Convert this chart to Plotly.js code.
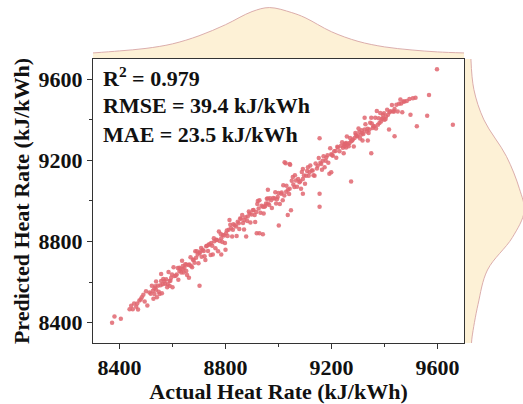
<!DOCTYPE html>
<html>
<head>
<meta charset="utf-8">
<script src="https://cdn.plot.ly/plotly-3.0.1.min.js"></script>
<style>html,body{margin:0;padding:0;background:#fff;}#chart{width:523px;height:404px;}</style>
</head>
<body>
<div id="chart"></div>
<script>
// Actual vs predicted heat rate (kJ/kWh)
var actual = [
8372,8381,8405,8438,8450,8444,8463,8467,8475,8484,8490,8513,8526,8532,8538,8545,8551,8541,8557,8538,
8563,8570,8576,8589,8589,8595,8604,8608,8616,8626,8633,8639,8645,8652,8662,8664,8670,8683,8689,8695,
8582,8557,8532,8626,8639,8652,8677,8686,8702,8708,8714,8721,8727,8737,8746,8752,8758,8765,8775,8784,
8784,8790,8800,8802,8812,8815,8821,8830,8840,8846,8855,8863,8871,8878,8884,8891,8903,8910,8918,8925,
8928,8922,8941,8953,8960,9155,9027,9044,9092,9111,9054,9066,9079,9092,9104,9117,9129,9136,9148,9161,
9167,9174,9180,9192,9199,9205,9215,9224,9236,9249,9255,9155,9155,9092,9085,9060,9042,9029,9010,8997,
8985,8972,8960,8947,8928,8991,9016,9047,9035,9598,9568,9561,9522,9517,9507,9494,9484,9472,9463,9498,
9467,9450,9438,9432,9419,9413,9406,9400,9394,9387,9381,9371,9394,9375,9362,9350,9325,9356,9343,9333,
9325,9317,9311,9305,9298,9292,9287,9280,9274,9268,9262,9255,9249,9243,9417,9438,9337,9317,9023,9042,
9350,9274,9001,8941,8702,9658,8960,9199,
8455,8470,8480,8495,8500,8505,8518,8522,8528,8535,8548,8555,8560,8565,8572,8580,8585,8592,8598,8600,
8612,8620,8622,8630,8636,8642,8648,8655,8660,8668,8674,8680,8692,8698,8705,8710,8718,8724,8730,8734,
8740,8744,8750,8756,8762,8768,8772,8778,8782,8788,8795,8798,8805,8808,8818,8825,8828,8835,8842,8850,
8852,8858,8866,8870,8875,8882,8888,8894,8898,8906,8912,8916,8920,8932,8936,8944,8950,8956,8965,8968,
8975,8980,8988,8994,9000,9005,9012,9018,9022,9030,9036,9040,9050,9056,9062,9070,9074,9082,9088,9096,
9100,9108,9114,9120,9125,9132,9140,9145,9152,9158,9164,9170,9178,9185,9188,9195,9202,9210,9218,9222,
9230,9240,9246,9252,9258,9265,9270,9278,9284,9290,9296,9302,9308,9314,9320,9328,9336,9340,9346,9352,
9358,9365,9368,9378,9384,9390,9398,9404,9410,9422,9428,9436,9445,9455,9460,9475
];
var predicted = [
8400,8431,8419,8466,8466,8484,8479,8495,8509,8525,8538,8549,8557,8570,8562,8582,8541,8525,8640,8603,
8590,8606,8614,8606,8582,8622,8674,8630,8638,8655,8647,8663,8671,8655,8622,8687,8679,8695,8720,8736,
8590,8606,8541,8671,8679,8687,8711,8752,8744,8768,8760,8728,8777,8785,8793,8736,8801,8809,8850,8817,
8736,8833,8760,8841,8858,8906,8866,8885,8874,8898,8914,8931,8906,8825,8923,8939,8955,8931,8841,8963,
8841,9000,8972,8988,9012,9309,9186,9179,9158,9166,9118,9101,9093,9109,9125,9142,9150,9125,9174,9182,
9199,9166,9215,9134,9231,9223,9247,9264,9272,9280,9264,9036,8972,9036,9061,9069,9061,9045,9036,9020,
9012,9004,8988,8972,9004,8988,9004,8955,8931,9649,9522,9420,9368,9509,9506,9503,9493,9490,9481,9425,
9437,9441,9454,9441,9437,9425,9416,9400,9408,9392,9384,9444,9425,9376,9368,9411,9411,9360,9352,9343,
9352,9335,9327,9340,9319,9327,9311,9303,9294,9286,9278,9286,9270,9262,9352,9319,9298,9298,9191,9182,
9236,9096,8879,8836,8582,9376,9056,9142,
8495,8465,8515,8505,8555,8485,8543,8582,8518,8580,8553,8585,8545,8615,8592,8575,8650,8607,8638,8575,
8632,8670,8612,8665,8706,8647,8688,8635,8685,8723,8674,8710,8752,8693,8750,8725,8753,8709,8780,8754,
8785,8734,8780,8816,8767,8808,8752,8803,8837,8798,8830,8793,8855,8828,8883,8825,8858,8880,8827,8890,
8862,8913,8891,8860,8920,8902,8948,8894,8933,8956,8897,8946,8985,8942,8976,8939,8975,9011,8980,9013,
8965,9015,9043,9009,9040,8985,9042,9078,9027,9075,9056,9035,9100,9081,9127,9070,9109,9097,9143,9126,
9085,9148,9124,9175,9150,9127,9185,9160,9212,9188,9154,9220,9198,9225,9188,9260,9227,9245,9213,9267,
9245,9290,9236,9282,9318,9270,9310,9298,9269,9335,9321,9357,9308,9349,9330,9378,9356,9335,9386,9382,
9368,9410,9358,9408,9434,9405,9433,9404,9450,9442,9473,9441,9475,9480,9500,9490
];

// Marginal density outlines (relative height, peak = 1)
var topGrid = [8300,8400,8500,8600,8700,8800,8900,8966,9050,9100,9200,9300,9400,9500,9600,9700];
var topDensity = [0.10,0.14,0.19,0.28,0.44,0.66,0.92,1.00,0.90,0.80,0.52,0.33,0.22,0.16,0.12,0.10];
var rightGrid = [8300,8330,8490,8660,8820,8950,9060,9220,9400,9550,9700];
var rightDensity = [0.11,0.12,0.22,0.38,0.80,1.00,0.92,0.70,0.32,0.15,0.10];

var xTicks = [8400, 8800, 9200, 9600];
var yTicks = [8400, 8800, 9200, 9600];
var metricLines = ['R<sup>2</sup> = 0.979', 'RMSE = 39.4 kJ/kWh', 'MAE = 23.5 kJ/kWh'];

var serif = 'Liberation Serif, Times New Roman, serif';
var axisColor = '#333';

var traces = [
  {
    type: 'scatter', mode: 'lines', x: topGrid, y: topDensity,
    xaxis: 'x', yaxis: 'y2', fill: 'tozeroy', fillcolor: '#fdf1d6',
    line: {color: 'rgba(215,165,165,0.9)', width: 1, shape: 'spline'}, hoverinfo: 'skip'
  },
  {
    type: 'scatter', mode: 'lines', x: rightDensity, y: rightGrid,
    xaxis: 'x2', yaxis: 'y', fill: 'tozerox', fillcolor: '#fdf1d6',
    line: {color: 'rgba(215,165,165,0.9)', width: 1, shape: 'spline'}, hoverinfo: 'skip'
  },
  {
    type: 'scatter', mode: 'markers', x: actual, y: predicted,
    xaxis: 'x', yaxis: 'y',
    marker: {size: 4.5, color: 'rgb(224,102,112)', opacity: 0.85, line: {width: 0}}
  }
];

var annotations = metricLines.map(function (t, i) {
  return {
    xref: 'paper', yref: 'paper', x: 0.018, y: [0.776, 0.691, 0.609][i],
    xanchor: 'left', yanchor: 'middle', showarrow: false, text: t,
    font: {family: serif, size: 22, color: '#111', weight: 'bold'}
  };
});

var layout = {
  width: 523, height: 404,
  margin: {l: 93, r: 0, t: 0, b: 61},
  paper_bgcolor: '#fff', plot_bgcolor: '#fff',
  showlegend: false,
  xaxis: {
    domain: [0, 0.8628], range: [8300, 9700], anchor: 'y',
    tickvals: xTicks, ticktext: xTicks.map(String),
    ticks: 'outside', ticklen: 5, tickwidth: 1, tickcolor: axisColor,
    minor: {tickvals: [8600, 9000, 9400], ticks: 'outside', ticklen: 3, tickcolor: axisColor, showgrid: false},
    showline: true, linecolor: axisColor, linewidth: 1, mirror: true,
    showgrid: false, zeroline: false,
    tickfont: {family: serif, size: 22, color: '#111', weight: 'bold'},
    title: {text: 'Actual Heat Rate (kJ/kWh)', standoff: 4,
            font: {family: serif, size: 22, color: '#111', weight: 'bold'}}
  },
  yaxis: {
    domain: [0, 0.828], range: [8300, 9700], anchor: 'x',
    tickvals: yTicks, ticktext: yTicks.map(String),
    ticks: 'outside', ticklen: 5, tickwidth: 1, tickcolor: axisColor,
    minor: {tickvals: [8600, 9000, 9400], ticks: 'outside', ticklen: 3, tickcolor: axisColor, showgrid: false},
    showline: true, linecolor: axisColor, linewidth: 1, mirror: true,
    showgrid: false, zeroline: false,
    tickfont: {family: serif, size: 22, color: '#111', weight: 'bold'},
    title: {text: 'Predicted Heat Rate (kJ/kWh)', standoff: 2,
            font: {family: serif, size: 22, color: '#111', weight: 'bold'}}
  },
  yaxis2: {domain: [0.831, 1], range: [0, 1.15], visible: false, anchor: 'x'},
  xaxis2: {domain: [0.8651, 1], range: [0, 0.98], visible: false, anchor: 'y'},
  annotations: annotations
};

Plotly.newPlot('chart', traces, layout, {displayModeBar: false, staticPlot: true});
</script>
</body>
</html>
